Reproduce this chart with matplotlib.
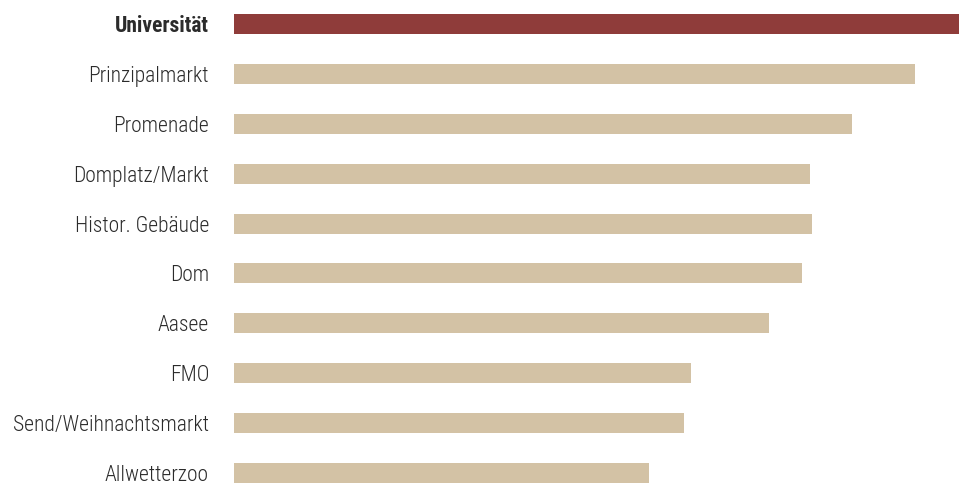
import matplotlib.pyplot as plt

# Daten
orte = ['Universität', 'Prinzipalmarkt', 'Promenade', 'Domplatz/Markt', 'Histor. Gebäude',
        'Dom', 'Aasee', 'FMO', 'Send/Weihnachtsmarkt', 'Allwetterzoo']
werte = [100, 93.9, 85.2, 79.4, 79.7, 78.3, 73.8, 63.0, 62.1, 57.2]
farben = ['#8f3c3a'] + ['#d3c2a5'] * (len(orte) - 1)

plt.rcParams['font.family'] = ['Roboto Condensed', 'DejaVu Sans']

fig = plt.figure(figsize=(9.59, 4.83), dpi=100)
ax = fig.add_axes([234 / 959, 0, 1 - 234 / 959, 1])

pos = list(range(len(orte)))
ax.barh(pos, werte, height=0.4, color=farben)

ax.set_xlim(0, max(werte))
ax.set_ylim(9.2, -0.48)
ax.set_yticks(pos)
ax.set_yticklabels(orte, fontsize=15.5, color='#2b2b2b', fontweight='light')
ax.get_yticklabels()[0].set_fontweight('bold')
ax.tick_params(axis='y', length=0, pad=18)
ax.set_xticks([])
for s in ax.spines.values():
    s.set_visible(False)

fig.savefig('out.png', dpi=100)
